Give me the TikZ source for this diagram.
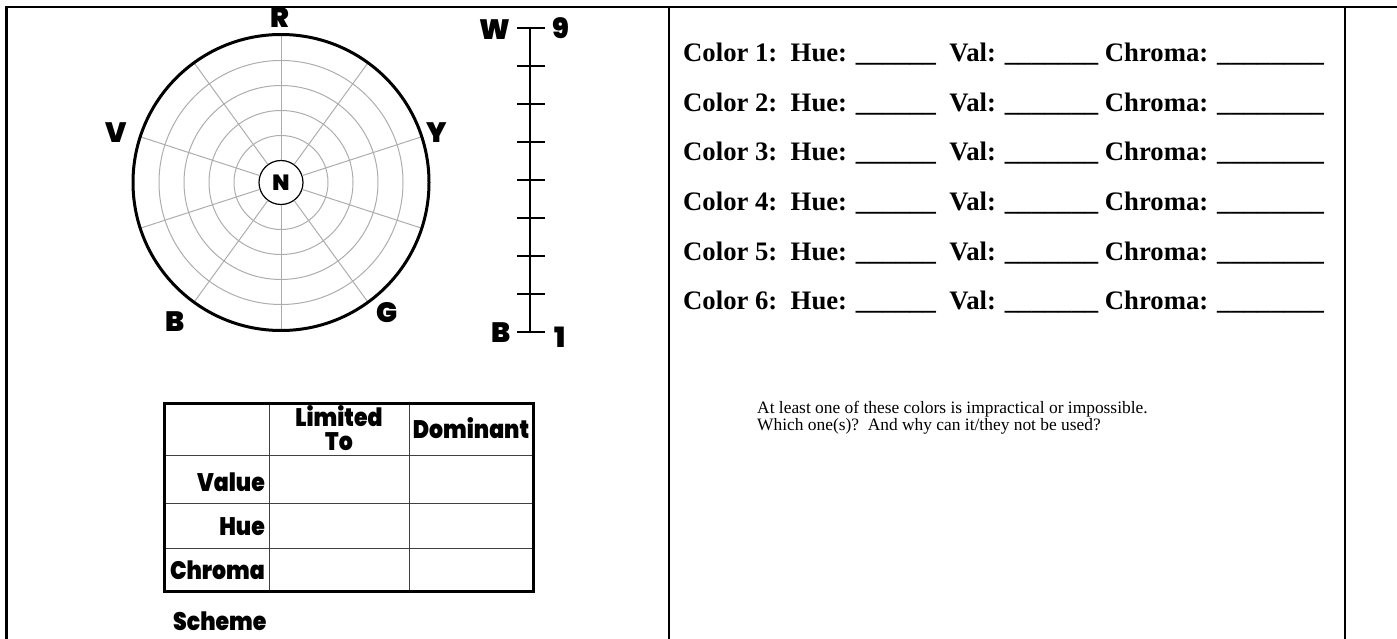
\documentclass[tikz,border=0pt]{standalone}
\usepackage{graphicx}
\usepackage{fontspec}
\setmainfont{Liberation Serif}
\IfFontExistsTF{Poppins Black}
  {\newfontfamily\blkfam{Poppins Black}}
  {\IfFontExistsTF{Poppins ExtraBold}
     {\newfontfamily\blkfam{Poppins ExtraBold}}
     {\newfontfamily\blkfam{DejaVu Sans Bold}}}
\newcommand{\tallt}[1]{\scalebox{1}[1.15]{#1}}
\usetikzlibrary{calc}
\begin{document}
\begin{tikzpicture}[x=1pt,y=-1pt,
  frame/.style={line width=2.6pt},
  ring/.style={draw=black!32, line width=1pt},
  spoke/.style={draw=black!32, line width=1pt},
  hlbl/.style={font=\blkfam\fontsize{28}{30}\selectfont, inner sep=0pt},
  tlbl/.style={font=\blkfam\fontsize{22}{19}\selectfont, inner sep=0pt},
  cell/.style={line width=1pt, draw=black!75},
  tick/.style={line width=1.2pt},
  rowtxt/.style={anchor=base west, inner sep=0pt, font=\bfseries\fontsize{26.7}{28}\selectfont},
  note/.style={anchor=base west, inner sep=0pt, font=\fontsize{17.4}{18}\selectfont}]
\useasboundingbox (0,0) rectangle (1397,639);
% frame
\draw[frame] (6.5,639) -- (6.5,7) -- (1397,7);
\draw[frame] (669,7) -- (669,639);
\draw[frame] (1345,7) -- (1345,639);
% hue circle
\coordinate (c) at (281,182.5);
\foreach \r in {47,72,97,122} \draw[ring] (c) circle[radius=\r pt];
\node[draw, circle, minimum size=44pt, inner sep=0pt, line width=1.2pt, fill=white,
      font=\blkfam\fontsize{22}{24}\selectfont] (n) at (c) {N};
\foreach \a in {90,126,162,198,234,270,306,342,18,54}
  \draw[spoke] (n.\a) -- ($(c)+(\a:148pt)$);
\draw[line width=3pt] (c) circle[radius=148pt];
\node[hlbl] (hR) at (280,18) {R};
\node[hlbl] (hV) at (116,133) {V};
\node[hlbl] (hY) at (437,133) {Y};
\node[hlbl] (hB) at (175,322) {B};
\node[hlbl] (hG) at (387,313) {G};
% value scale
\coordinate (vt) at (530,28);
\coordinate (vb) at (530,332);
\draw[line width=2.6pt] (vt) -- (vb);
\draw[line width=2.6pt] ($(vt)+(-13,0)$) -- ($(vt)+(15,0)$);
\draw[line width=2.6pt] ($(vb)+(-13,0)$) -- ($(vb)+(15,0)$);
\foreach \k in {1,...,7} \draw[tick] ($(vt)+(-13,38*\k)$) -- ($(vt)+(15,38*\k)$);
\node[hlbl] (lW) at (495,30) {W};
\node[hlbl] (l9) at (561,28) {9};
\node[hlbl] (lB) at (501,333) {B};
\node[hlbl] (l1) at (560,337) {1};
% table
\draw[cell] (269,403) -- (269,591);
\draw[cell] (409,403) -- (409,591);
\draw[cell] (164,455) -- (533,455);
\draw[cell] (164,503) -- (533,503);
\draw[cell] (164,548) -- (533,548);
\draw[line width=3pt] (164,403) rectangle (533,591);
\node[tlbl, anchor=base] (tLim) at (339,426) {\tallt{Limited}};
\node[tlbl, anchor=base] (tTo) at (339,450) {\tallt{To}};
\node[tlbl] (tDom) at (471,428) {\tallt{Dominant}};
\node[tlbl, anchor=east] (tVal) at (265,482) {\tallt{Value}};
\node[tlbl, anchor=east] (tHue) at (265,527) {\tallt{Hue}};
\node[tlbl, anchor=east] (tChr) at (265,570) {\tallt{Chroma}};
\node[tlbl, anchor=base west] (tSch) at (173,630) {\tallt{Scheme}};
% colour lines
\foreach \n/\y in {1/62,2/111.5,3/161,4/210.5,5/260,6/309.5}
  \node[rowtxt] (col\n) at (683,\y) {Color \n:\ \ Hue: \_\_\_\_\_\_\ \ Val: \_\_\_\_\_\_\_ Chroma: \_\_\_\_\_\_\_\_};
\node[note] (q1) at (757,413) {At least one of these colors is impractical or impossible.};
\node[note] (q2) at (757,430) {Which one(s)?\ \ And why can it/they not be used?};
\end{tikzpicture}
\end{document}
